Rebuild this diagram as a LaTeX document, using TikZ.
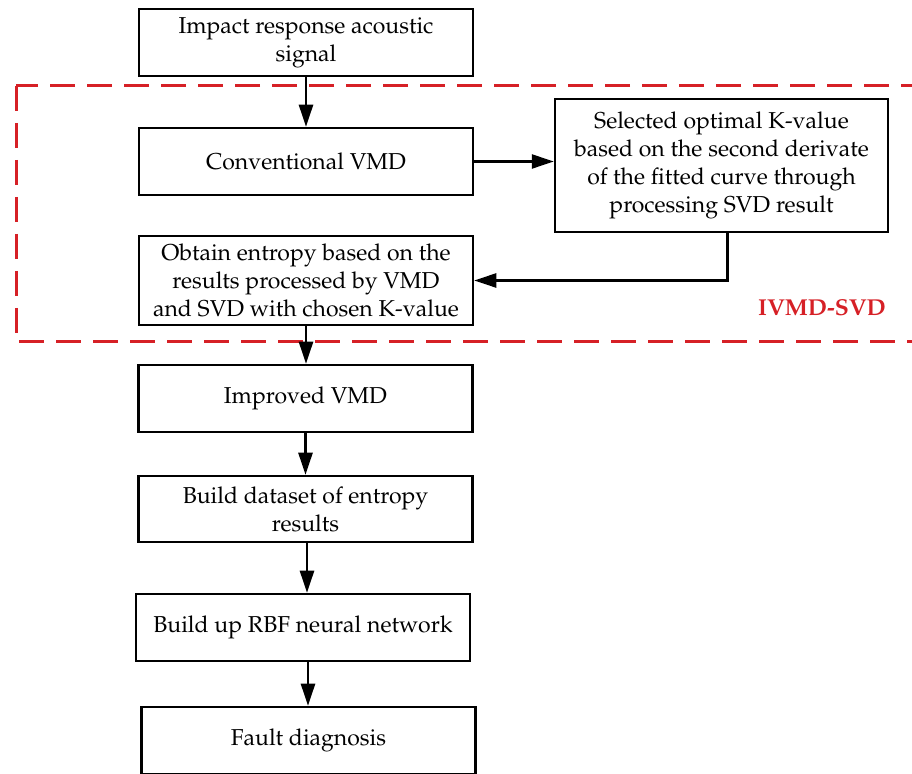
\documentclass[tikz,border=0pt]{standalone}
\usepackage[T1]{fontenc}
\usepackage{mathpazo}
\usetikzlibrary{arrows.meta}
\definecolor{boxred}{RGB}{214,32,38}
\begin{document}
\begin{tikzpicture}[x=0.5pt,y=-0.5pt,
  box/.style={draw=black,line width=1.25pt,rectangle,align=center,
    minimum width=167pt,minimum height=33.5pt,inner sep=2pt,
    font=\fontsize{11.5}{14}\selectfont},
  flow/.style={line width=1.25pt,-{Triangle[length=11pt,width=7pt]}},
  group/.style={draw=boxred,line width=1.5pt,dash pattern=on 12.5pt off 6pt}
]
\useasboundingbox (0,0) rectangle (912,774);
\begin{scope}
\clip (0,0) rectangle (912,774);
\draw[group] (16,86) rectangle (918,342);
\node[box] (b1) at (306,42.5) {Impact response acoustic\\signal};
\node[box] (conv) at (306,161.5) {Conventional VMD};
\node[box,minimum width=166.5pt,minimum height=66.5pt] (sel) at (721.5,165.5)
  {Selected optimal K-value\\based on the second derivate\\of the fitted curve through\\processing SVD result};
\node[box,minimum height=44.5pt] (obt) at (306,280.5)
  {Obtain entropy based on the\\results processed by VMD\\and SVD with chosen K-value};
\node[box] (imp) at (305.5,398.5) {Improved VMD};
\node[box,minimum height=33pt] (ds) at (305.5,509) {Build dataset of entropy\\results};
\node[box] (rbf) at (303,627.5) {Build up RBF neural network};
\node[box] (fault) at (308.5,740.5) {Fault diagnosis};
\node[text=boxred,font=\fontsize{11.5}{14}\selectfont\bfseries] (lbl) at (822,308) {IVMD-SVD};
\draw[flow] (b1.south) -- (b1.south |- conv.north);
\draw[flow] (conv.east) -- (conv.east -| sel.west);
\coordinate (selb) at ([xshift=3pt]sel.south);
\draw[flow] (selb) |- (obt.east);
\draw[flow] (obt.south) -- (obt.south |- imp.north);
\draw[flow] (imp.south) -- (imp.south |- ds.north);
\draw[flow] ([xshift=0.75pt]ds.south) -- ([xshift=0.75pt]ds.south |- rbf.north);
\draw[flow] ([xshift=2.5pt]rbf.south) -- ([xshift=2.5pt]rbf.south |- fault.north);
\end{scope}
\end{tikzpicture}
\end{document}
